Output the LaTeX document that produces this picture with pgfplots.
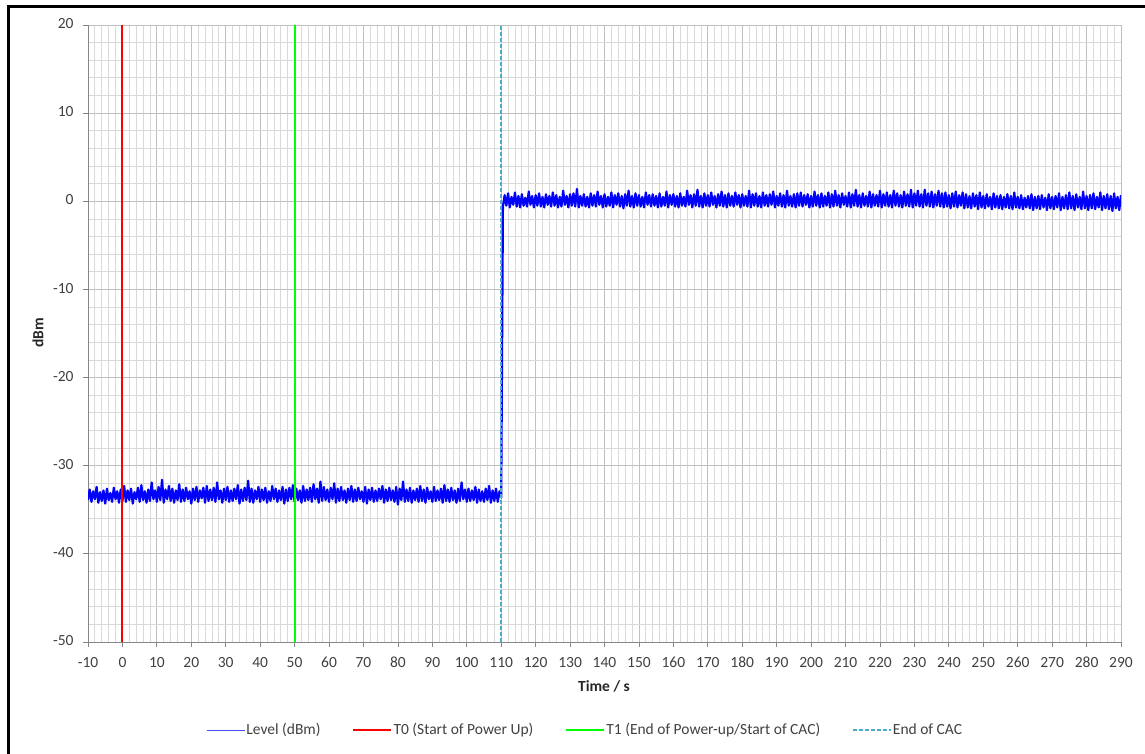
\documentclass[border=0pt]{standalone}
\usepackage{fontspec}
\setmainfont{Carlito}
\usepackage{pgfplots}
\usepackage{pgfplotstable}
\pgfplotsset{compat=1.18}
\definecolor{ticktext}{RGB}{64,64,64}
\definecolor{majgrid}{RGB}{191,191,191}
\definecolor{mingrid}{RGB}{217,217,217}
\definecolor{axisgray}{RGB}{134,134,134}
\definecolor{cac}{RGB}{75,172,198}
\definecolor{tzero}{RGB}{255,0,0}
\definecolor{tone}{RGB}{0,255,0}
\newcommand\lbl{\fontsize{15.5}{18}\selectfont}

% level trace, one value every 0.5 s from -10 s to 290 s
\pgfplotstableread[header=false,row sep=\\]{
-33.9\\ -32.7\\ -34.1\\ -32.9\\ -33.8\\ -32.4\\ -34.2\\ -33.0\\ -34.0\\ -32.8\\
-34.3\\ -32.6\\ -33.9\\ -33.1\\ -34.1\\ -32.5\\ -33.8\\ -32.9\\ -34.2\\ -32.7\\
-34.0\\ -32.3\\ -34.1\\ -32.8\\ -33.9\\ -32.6\\ -34.3\\ -33.0\\ -33.8\\ -32.5\\
-34.1\\ -32.2\\ -33.9\\ -32.9\\ -34.2\\ -32.7\\ -34.0\\ -31.9\\ -33.8\\ -32.8\\
-34.1\\ -32.4\\ -33.9\\ -31.6\\ -34.2\\ -32.7\\ -33.8\\ -32.3\\ -34.0\\ -32.6\\
-34.2\\ -32.8\\ -33.9\\ -32.1\\ -34.1\\ -32.7\\ -34.0\\ -32.5\\ -33.8\\ -32.9\\
-34.3\\ -32.6\\ -33.9\\ -32.4\\ -34.1\\ -32.8\\ -33.7\\ -32.5\\ -34.2\\ -32.3\\
-34.0\\ -32.7\\ -33.9\\ -32.5\\ -34.1\\ -31.9\\ -33.8\\ -32.8\\ -34.2\\ -32.6\\
-33.9\\ -32.4\\ -34.1\\ -32.8\\ -34.0\\ -32.6\\ -33.8\\ -32.2\\ -34.3\\ -32.7\\
-34.0\\ -32.5\\ -33.9\\ -31.7\\ -34.1\\ -32.6\\ -34.2\\ -32.8\\ -33.8\\ -32.4\\
-34.1\\ -32.7\\ -33.9\\ -32.5\\ -34.2\\ -32.9\\ -34.0\\ -32.3\\ -33.8\\ -32.6\\
-34.1\\ -32.8\\ -33.9\\ -32.4\\ -34.3\\ -32.7\\ -34.0\\ -32.5\\ -33.8\\ -32.2\\
-34.1\\ -32.6\\ -33.9\\ -32.8\\ -34.2\\ -32.3\\ -34.0\\ -32.7\\ -33.9\\ -32.5\\
-34.1\\ -32.1\\ -33.8\\ -32.6\\ -34.2\\ -31.8\\ -34.0\\ -32.4\\ -33.9\\ -32.7\\
-34.1\\ -32.5\\ -33.8\\ -32.0\\ -34.2\\ -32.6\\ -34.0\\ -32.4\\ -33.9\\ -32.8\\
-34.2\\ -32.6\\ -33.9\\ -32.3\\ -34.1\\ -32.7\\ -34.0\\ -32.5\\ -33.8\\ -32.9\\
-34.1\\ -32.4\\ -34.3\\ -32.7\\ -33.9\\ -32.5\\ -34.1\\ -32.8\\ -34.0\\ -32.6\\
-33.8\\ -32.3\\ -34.2\\ -32.7\\ -34.0\\ -32.5\\ -33.9\\ -32.8\\ -34.1\\ -32.4\\
-34.4\\ -32.6\\ -33.9\\ -31.8\\ -34.1\\ -32.7\\ -34.0\\ -32.5\\ -34.2\\ -32.8\\
-33.9\\ -32.6\\ -34.1\\ -32.3\\ -34.0\\ -32.7\\ -34.2\\ -32.5\\ -33.8\\ -32.9\\
-34.1\\ -32.4\\ -34.0\\ -32.8\\ -33.9\\ -32.6\\ -34.2\\ -32.2\\ -34.0\\ -32.7\\
-34.1\\ -32.5\\ -33.9\\ -32.8\\ -34.2\\ -32.6\\ -34.0\\ -31.9\\ -33.8\\ -32.7\\
-34.1\\ -32.6\\ -34.0\\ -32.8\\ -33.9\\ -32.4\\ -34.2\\ -32.7\\ -34.0\\ -32.9\\
-34.1\\ -32.6\\ -33.9\\ -32.3\\ -34.2\\ -32.8\\ -34.0\\ -32.6\\ -34.1\\ -32.9\\
-33.6\\
-0.6\\ 0.7\\ -0.5\\ 0.9\\ -0.7\\ 0.5\\ -0.4\\ 1.0\\ -0.6\\ 0.6\\
-0.7\\ 0.8\\ -0.5\\ 0.4\\ -0.6\\ 1.1\\ -0.4\\ 0.6\\ -0.7\\ 0.7\\
-0.5\\ 0.9\\ -0.6\\ 0.5\\ -0.7\\ 0.8\\ -0.4\\ 0.6\\ -0.6\\ 1.0\\
-0.5\\ 0.7\\ -0.7\\ 0.5\\ -0.6\\ 1.2\\ -0.4\\ 0.6\\ -0.7\\ 0.8\\
-0.5\\ 0.9\\ -0.6\\ 1.4\\ -0.7\\ 0.6\\ -0.5\\ 0.8\\ -0.6\\ 0.5\\
-0.7\\ 0.9\\ -0.5\\ 0.7\\ -0.6\\ 1.1\\ -0.4\\ 0.6\\ -0.7\\ 0.8\\
-0.6\\ 0.5\\ -0.5\\ 1.0\\ -0.7\\ 0.7\\ -0.4\\ 0.9\\ -0.6\\ 0.6\\
-0.8\\ 0.8\\ -0.5\\ 1.2\\ -0.6\\ 0.6\\ -0.7\\ 0.9\\ -0.5\\ 0.7\\
-0.6\\ 0.5\\ -0.7\\ 1.0\\ -0.4\\ 0.7\\ -0.6\\ 0.8\\ -0.5\\ 0.6\\
-0.7\\ 0.9\\ -0.6\\ 0.5\\ -0.5\\ 1.1\\ -0.7\\ 0.7\\ -0.4\\ 0.8\\
-0.6\\ 0.6\\ -0.7\\ 0.9\\ -0.5\\ 0.5\\ -0.6\\ 1.2\\ -0.4\\ 0.7\\
-0.7\\ 0.8\\ -0.5\\ 1.3\\ -0.6\\ 0.6\\ -0.7\\ 0.9\\ -0.5\\ 0.7\\
-0.6\\ 1.0\\ -0.4\\ 0.6\\ -0.7\\ 0.8\\ -0.5\\ 1.1\\ -0.6\\ 0.7\\
-0.7\\ 0.9\\ -0.5\\ 0.6\\ -0.6\\ 1.0\\ -0.4\\ 0.7\\ -0.7\\ 0.8\\
-0.5\\ 0.6\\ -0.6\\ 1.2\\ -0.7\\ 0.8\\ -0.5\\ 0.9\\ -0.6\\ 0.6\\
-0.7\\ 1.0\\ -0.5\\ 0.7\\ -0.6\\ 0.8\\ -0.4\\ 1.1\\ -0.7\\ 0.6\\
-0.5\\ 0.9\\ -0.6\\ 0.7\\ -0.7\\ 1.2\\ -0.5\\ 0.6\\ -0.6\\ 0.8\\
-0.7\\ 0.9\\ -0.5\\ 1.0\\ -0.6\\ 0.7\\ -0.4\\ 0.8\\ -0.7\\ 0.6\\
-0.6\\ 1.1\\ -0.5\\ 0.7\\ -0.7\\ 0.9\\ -0.6\\ 0.6\\ -0.5\\ 1.0\\
-0.7\\ 0.8\\ -0.6\\ 1.2\\ -0.5\\ 0.7\\ -0.7\\ 0.9\\ -0.4\\ 0.6\\
-0.6\\ 1.0\\ -0.7\\ 0.8\\ -0.5\\ 1.3\\ -0.6\\ 0.7\\ -0.7\\ 0.9\\
-0.5\\ 0.6\\ -0.6\\ 1.1\\ -0.7\\ 0.8\\ -0.5\\ 0.7\\ -0.6\\ 1.2\\
-0.7\\ 0.8\\ -0.5\\ 1.0\\ -0.6\\ 0.7\\ -0.7\\ 1.2\\ -0.5\\ 0.9\\
-0.6\\ 0.7\\ -0.7\\ 1.1\\ -0.5\\ 0.8\\ -0.6\\ 1.3\\ -0.7\\ 0.9\\
-0.5\\ 1.2\\ -0.6\\ 0.8\\ -0.7\\ 1.3\\ -0.5\\ 0.9\\ -0.6\\ 1.1\\
-0.7\\ 0.8\\ -0.5\\ 1.2\\ -0.6\\ 0.9\\ -0.7\\ 1.0\\ -0.6\\ 0.7\\
-0.8\\ 0.9\\ -0.6\\ 1.1\\ -0.7\\ 0.7\\ -0.5\\ 1.0\\ -0.8\\ 0.8\\
-0.7\\ 0.6\\ -0.8\\ 0.9\\ -0.6\\ 0.7\\ -0.9\\ 1.0\\ -0.7\\ 0.6\\
-0.8\\ 0.8\\ -0.6\\ 0.5\\ -0.9\\ 0.9\\ -0.7\\ 0.6\\ -0.8\\ 0.7\\
-0.9\\ 0.5\\ -0.7\\ 0.8\\ -0.8\\ 0.6\\ -0.9\\ 1.0\\ -0.7\\ 0.5\\
-0.8\\ 0.7\\ -0.9\\ 0.4\\ -0.7\\ 0.6\\ -0.8\\ 0.8\\ -1.0\\ 0.5\\
-0.8\\ 0.6\\ -0.9\\ 0.7\\ -0.7\\ 0.4\\ -1.0\\ 0.8\\ -0.8\\ 0.5\\
-0.9\\ 0.6\\ -0.7\\ 0.9\\ -1.0\\ 0.5\\ -0.8\\ 0.7\\ -0.9\\ 1.0\\
-0.8\\ 0.6\\ -1.0\\ 0.8\\ -0.7\\ 0.5\\ -0.9\\ 1.1\\ -0.8\\ 0.6\\
-1.0\\ 0.7\\ -0.8\\ 0.9\\ -0.9\\ 0.5\\ -0.7\\ 1.0\\ -1.0\\ 0.6\\
-0.8\\ 0.8\\ -0.9\\ 0.6\\ -1.1\\ 0.9\\ -0.8\\ 0.5\\ -1.0\\ 0.7\\
}\leveldata

\begin{document}
\begin{tikzpicture}[x=1pt,y=1pt]
\useasboundingbox (0,0) rectangle (1145,754);
\draw[line width=3pt] (8.7,0) -- (8.7,747.3) -- (1145,747.3);
\begin{axis}[
    at={(88pt,112pt)}, anchor=south west,
    width=1033pt, height=617pt, scale only axis,
    xmin=-10, xmax=290, ymin=-50, ymax=20,
    xtick={-10,0,10,20,30,40,50,60,70,80,90,100,110,120,130,140,150,160,170,180,190,200,210,220,230,240,250,260,270,280,290},
    xticklabels={-10,0,10,20,30,40,50,60,70,80,90,100,110,120,130,140,150,160,170,180,190,200,210,220,230,240,250,260,270,280,290},
    ytick={-50,-40,-30,-20,-10,0,10,20},
    yticklabels={-50,-40,-30,-20,-10,0,10,20},
    minor x tick num=4, minor y tick num=4,
    grid=both,
    major grid style={draw=majgrid, line width=0.8pt},
    minor grid style={draw=mingrid, line width=0.8pt},
    axis lines=left,
    axis line style={-, draw=axisgray, line width=0.8pt},
    tick align=outside,
    major tick length=5pt, minor tick length=0pt,
    tick style={draw=axisgray, line width=0.8pt},
    tick label style={font=\lbl, text=ticktext},
    typeset ticklabels with strut,
    xticklabel style={yshift=-4pt},
    yticklabel style={xshift=-6pt},
    legend image code/.code={\draw[#1] (0pt,0pt) -- (38pt,0pt);},
    legend style={
        at={(axis description cs:0.481,-0.1426)}, anchor=center,
        draw=none, fill=none,
        legend columns=-1,
        font=\lbl, text=ticktext,
        nodes={inner sep=1.5pt},
        /tikz/every even column/.append style={column sep=30pt}
    },
]
\addplot[blue, line width=2.2pt, line join=round,
    legend image code/.code={\draw[blue!70, line width=0.8pt] (0pt,0pt) -- (38pt,0pt);}]
    table[x expr=\coordindex*0.5-10, y index=0] {\leveldata};
\addlegendentry{Level (dBm)}
\addplot[tzero, line width=2pt] coordinates {(0,-50) (0,20)};
\addlegendentry{T0 (Start of Power Up)}
\addplot[tone, line width=2pt] coordinates {(50,-50) (50,20)};
\addlegendentry{T1 (End of Power-up/Start of CAC)}
\addplot[cac, line width=1.6pt, dash pattern=on 4pt off 2pt] coordinates {(110,-50) (110,20)};
\addlegendentry{End of CAC}
\end{axis}
\node[font=\lbl\bfseries, text=black!85] at (604,68) {Time / s};
\node[font=\lbl\bfseries, text=black!85, rotate=90] at (38,421) {dBm};
\end{tikzpicture}
\end{document}
